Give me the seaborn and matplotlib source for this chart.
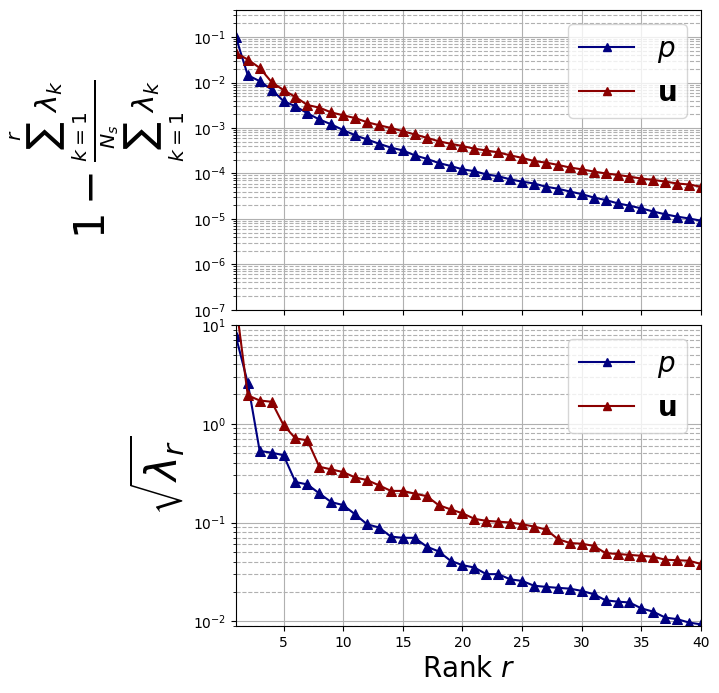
import numpy as np
import pandas as pd
import matplotlib
matplotlib.use("Agg")
import matplotlib.pyplot as plt
import seaborn as sns

# ---- data ----
rank = list(range(1, 41))

# 1 - cumulative energy ratio
energy_p = [0.1, 0.0145, 0.0107, 0.0070, 0.0039, 0.0030, 0.0021, 0.00154, 0.0012, 0.00090,
            0.00069, 0.00056, 0.00045, 0.00037, 0.00032, 0.00025, 0.00021, 0.00017, 0.000146, 0.000123,
            1.12e-4, 9.5e-5, 8.7e-5, 7.4e-5, 6.6e-5, 6.0e-5, 5.1e-5, 4.6e-5, 4.0e-5, 3.5e-5,
            2.95e-5, 2.6e-5, 2.2e-5, 1.95e-5, 1.7e-5, 1.45e-5, 1.26e-5, 1.12e-5, 1.02e-5, 9.1e-6]
energy_u = [0.045, 0.032, 0.021, 0.0102, 0.0068, 0.0048, 0.0032, 0.0028, 0.0022, 0.0019,
            0.00165, 0.00134, 0.00115, 0.0010, 0.00085, 0.00072, 0.00061, 0.00051, 0.00045, 0.00040,
            3.5e-4, 3.2e-4, 2.9e-4, 2.5e-4, 2.2e-4, 1.87e-4, 1.73e-4, 1.54e-4, 1.35e-4, 1.23e-4,
            1.1e-4, 1.0e-4, 9.3e-5, 8.5e-5, 7.7e-5, 7.2e-5, 6.6e-5, 6.0e-5, 5.7e-5, 5.1e-5]

# singular values sqrt(lambda_r)
sv_p = [7.7, 2.6, 0.53, 0.51, 0.48, 0.257, 0.243, 0.197, 0.161, 0.150,
        0.121, 0.096, 0.089, 0.072, 0.070, 0.070, 0.057, 0.051, 0.041, 0.037,
        0.035, 0.030, 0.030, 0.0266, 0.0256, 0.0229, 0.0223, 0.0218, 0.0214, 0.0203,
        0.0188, 0.0163, 0.0158, 0.0155, 0.0135, 0.0125, 0.0109, 0.0105, 0.0097, 0.0093]
sv_u = [17.0, 1.94, 1.72, 1.67, 0.97, 0.71, 0.68, 0.367, 0.345, 0.324,
        0.286, 0.269, 0.238, 0.209, 0.209, 0.196, 0.185, 0.150, 0.136, 0.124,
        0.109, 0.104, 0.102, 0.100, 0.096, 0.091, 0.085, 0.068, 0.062, 0.061,
        0.058, 0.049, 0.048, 0.047, 0.046, 0.045, 0.042, 0.0415, 0.041, 0.038]

labels = ["$p$", r"$\mathbf{u}$"]
colors = ["navy", "darkred"]

energy_df = pd.DataFrame({
    "rank": rank * 2,
    "value": energy_p + energy_u,
    "field": [labels[0]] * 40 + [labels[1]] * 40,
})
sv_df = pd.DataFrame({
    "rank": rank * 2,
    "value": sv_p + sv_u,
    "field": [labels[0]] * 40 + [labels[1]] * 40,
})

fig = plt.figure(figsize=(7.19, 6.93), dpi=100)
ax1 = fig.add_axes([0.328, 0.553, 0.647, 0.433])
ax2 = fig.add_axes([0.328, 0.097, 0.647, 0.434], sharex=ax1)

for ax, df in [(ax1, energy_df), (ax2, sv_df)]:
    sns.lineplot(data=df, x="rank", y="value", hue="field", palette=colors,
                 marker="^", markersize=7, markeredgecolor=None, linewidth=1.5,
                 ax=ax, legend=False)
    ax.set_yscale("log")
    ax.grid(which="major", linestyle="-", color="#b0b0b0", linewidth=0.8)
    ax.grid(which="minor", axis="y", linestyle="--", color="#b0b0b0", linewidth=0.8)
    # legend handles built to match the plotted series
    handles = [plt.Line2D([], [], color=c, marker="^", linewidth=1.5) for c in colors]
    ax.legend(handles, labels, loc="upper right", fontsize=20)

ax1.set_xlim(1, 40)
ax1.set_ylim(1e-7, 0.4)
ax2.set_ylim(0.009, 10)
ax1.tick_params(labelbottom=False)
ax1.set_xlabel("")
ax2.set_xlabel("Rank $r$", fontsize=20)

ax1.set_ylabel(r"$1 - \frac{\sum_{k=1}^{r}\lambda_k}{\sum_{k=1}^{N_s}\lambda_k}$", fontsize=30)
ax2.set_ylabel(r"$\sqrt{\lambda_r}$", fontsize=30)

fig.savefig("out.png", dpi=100)
